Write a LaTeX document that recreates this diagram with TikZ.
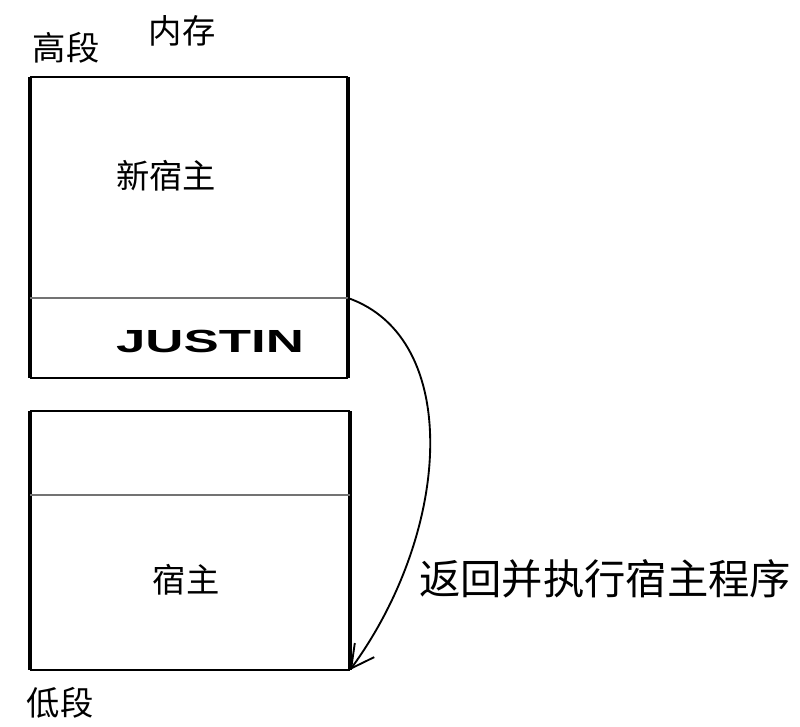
\documentclass[tikz,border=0pt]{standalone}
\usepackage{fontspec}
\usepackage{tikz}
\usetikzlibrary{arrows.meta}
\newfontfamily\cjk{Noto Sans CJK SC}
\newfontfamily\latinbold{Liberation Sans}

\tikzset{
  cjklabel/.style={inner sep=0.75pt, font=\cjk\fontsize{25}{30}\selectfont},
  sideline/.style={line width=2.8pt},
  endline/.style={line width=1.8pt},
  divider/.style={line width=0.8pt, color=black!55},
}

\begin{document}
\begin{tikzpicture}[x=0.75pt,y=0.75pt,yscale=-1,xscale=1]
\useasboundingbox (0,0) rectangle (800,726);

%Corners of the two memory blocks
\coordinate (hiNW) at (30,77);
\coordinate (hiNE) at (348,77);
\coordinate (hiSW) at (30,378);
\coordinate (hiSE) at (348,378);
\coordinate (hiDivW) at (30,298);
\coordinate (hiDivE) at (348,298);
\coordinate (loNW) at (30,411);
\coordinate (loNE) at (350,411);
\coordinate (loSW) at (30,670);
\coordinate (loSE) at (350,670);
\coordinate (loDivW) at (30,495);
\coordinate (loDivE) at (350,495);

%Shape: upper block
\draw [endline] (hiNW) -- (hiNE) ;
\draw [endline] (hiSW) -- (hiSE) ;
\draw [sideline] (hiNW) -- (hiSW) ;
\draw [sideline] (hiNE) -- (hiSE) ;
\draw [divider] (hiDivW) -- (hiDivE) ;
%Shape: lower block
\draw [endline] (loNW) -- (loNE) ;
\draw [endline] (loSW) -- (loSE) ;
\draw [sideline] (loNW) -- (loSW) ;
\draw [sideline] (loNE) -- (loSE) ;
\draw [divider] (loDivW) -- (loDivE) ;

%Curve: return jump
\draw [line width=1.4pt, -{Straight Barb[length=17pt,width=18pt,line width=1.4pt]}] (hiDivE) .. controls (462,338) and (452,530) .. (loSE) ;

% Text Node
\node (high) [cjklabel] at (66,48) {高段};
% Text Node
\node (mem) [cjklabel] at (182,31) {内存};
% Text Node
\node (newhost) [cjklabel] at (166,176) {新宿主};
% Text Node
\node (justin) [inner sep=0.75pt] at (210,341) {\scalebox{1.65}[1]{\latinbold\bfseries\fontsize{24}{28}\selectfont JUSTIN}};
% Text Node
\node (host) [cjklabel] at (186,580) {宿主};
% Text Node
\node (low) [cjklabel] at (60,703) {低段};
% Text Node
\node (ret) [cjklabel, font=\cjk\fontsize{31}{36}\selectfont] at (605,579) {返回并执行宿主程序};

\end{tikzpicture}
\end{document}
